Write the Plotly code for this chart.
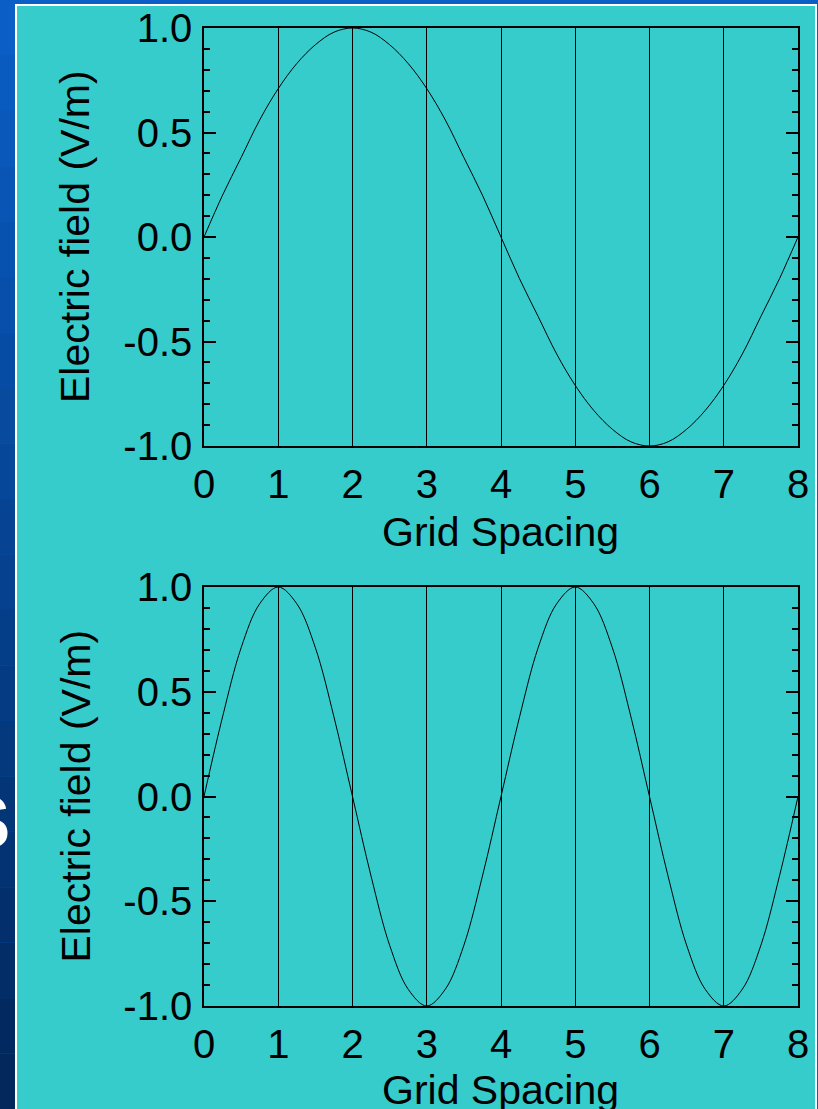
import plotly.graph_objects as go

# ---- data ----
x_pts = [i * 0.25 for i in range(33)]
top_field = [0, 0.20, 0.38, 0.56, 0.71, 0.83, 0.92, 0.98, 1.00, 0.98, 0.92, 0.83, 0.71, 0.56, 0.38, 0.20,
             0, -0.20, -0.38, -0.56, -0.71, -0.83, -0.92, -0.98, -1.00, -0.98, -0.92, -0.83, -0.71, -0.56, -0.38, -0.20, 0]
bottom_field = [0, 0.38, 0.71, 0.92, 1.00, 0.92, 0.71, 0.38, 0, -0.38, -0.71, -0.92, -1.00, -0.92, -0.71, -0.38,
                0, 0.38, 0.71, 0.92, 1.00, 0.92, 0.71, 0.38, 0, -0.38, -0.71, -0.92, -1.00, -0.92, -0.71, -0.38, 0]
x_ticks = [0, 1, 2, 3, 4, 5, 6, 7, 8]
y_ticks = [-1.0, -0.5, 0.0, 0.5, 1.0]
y_ticklabels = ["-1.0", "-0.5", "0.0", "0.5", "1.0"]
x_title = "Grid Spacing"
y_title = "Electric field (V/m)"

W, H = 818, 1109
TURQ = "#36CCCC"
FONT = "Liberation Sans, Arial, sans-serif"

def px(v):
    return v / W

def py(v):
    return 1 - v / H

fig = go.Figure()
fig.add_trace(go.Scatter(x=x_pts, y=top_field, mode="lines", line=dict(color="black", width=1, shape="spline"),
                         xaxis="x", yaxis="y", showlegend=False))
fig.add_trace(go.Scatter(x=x_pts, y=bottom_field, mode="lines", line=dict(color="black", width=1, shape="spline"),
                         xaxis="x2", yaxis="y2", showlegend=False))

xdom = [px(204), px(798)]
common_x = dict(range=[0, 8], tickvals=x_ticks, ticktext=[str(v) for v in x_ticks], showgrid=True,
                gridcolor="black", gridwidth=1.3, showline=True, linecolor="black", linewidth=1.5,
                mirror=True, ticks="", zeroline=False, automargin=False,
                tickfont=dict(family=FONT, size=40, color="black"), ticklabelstandoff=2)
common_y = dict(range=[-1, 1], tickvals=y_ticks, ticktext=y_ticklabels, showgrid=False, showline=True,
                linecolor="black", linewidth=1.5, mirror="allticks", ticks="inside", ticklen=12,
                tickwidth=1.5, tickcolor="black", zeroline=False, automargin=False,
                minor=dict(dtick=0.1, tick0=0, ticks="inside", ticklen=6, tickwidth=1.5, tickcolor="black", showgrid=False),
                tickfont=dict(family=FONT, size=40, color="black"), ticklabelstandoff=2)

fig.update_layout(
    template="none",
    width=W, height=H, margin=dict(l=0, r=0, t=0, b=0, pad=0, autoexpand=False),
    paper_bgcolor="#0a5ec6", plot_bgcolor="rgba(0,0,0,0)",
    xaxis=dict(domain=xdom, anchor="y", **common_x),
    yaxis=dict(domain=[py(446), py(28)], anchor="x", **common_y),
    xaxis2=dict(domain=xdom, anchor="y2", **common_x),
    yaxis2=dict(domain=[py(1006), py(587)], anchor="x2", **common_y),
)

shapes = []
# left strip gradient (slide background)
steps = 20
c0 = (10, 94, 198)
c1 = (2, 40, 92)
for i in range(steps):
    t = i / (steps - 1)
    col = "rgb(%d,%d,%d)" % tuple(int(c0[k] + (c1[k] - c0[k]) * t) for k in range(3))
    shapes.append(dict(type="rect", xref="paper", yref="paper", x0=0, x1=px(16),
                       y0=py(H * (i + 1) / steps), y1=py(H * i / steps),
                       fillcolor=col, line=dict(width=0), layer="below"))
# turquoise panel
shapes.append(dict(type="rect", xref="paper", yref="paper", x0=px(16), x1=px(816), y0=py(H + 5), y1=py(5),
                   fillcolor=TURQ, line=dict(color="white", width=2), layer="below"))
fig.update_layout(shapes=shapes)

ann = []
for dom_top, dom_bot, xt_y in [(28, 446, 532), (587, 1006, 1090)]:
    ann.append(dict(text=y_title, textangle=-90, xref="paper", yref="paper", x=px(75), y=py((dom_top + dom_bot) / 2),
                    xanchor="center", yanchor="middle", showarrow=False,
                    font=dict(family=FONT, size=41, color="black")))
    ann.append(dict(text=x_title, xref="paper", yref="paper", x=px(501), y=py(xt_y),
                    xanchor="center", yanchor="middle", showarrow=False,
                    font=dict(family=FONT, size=41, color="black")))
ann.append(dict(text="<b>S</b>", xref="paper", yref="paper", x=px(12), y=py(822), xanchor="right", yanchor="middle",
                showarrow=False, font=dict(family=FONT, size=74, color="white")))
fig.update_layout(annotations=ann)

fig.write_html("out.html")
